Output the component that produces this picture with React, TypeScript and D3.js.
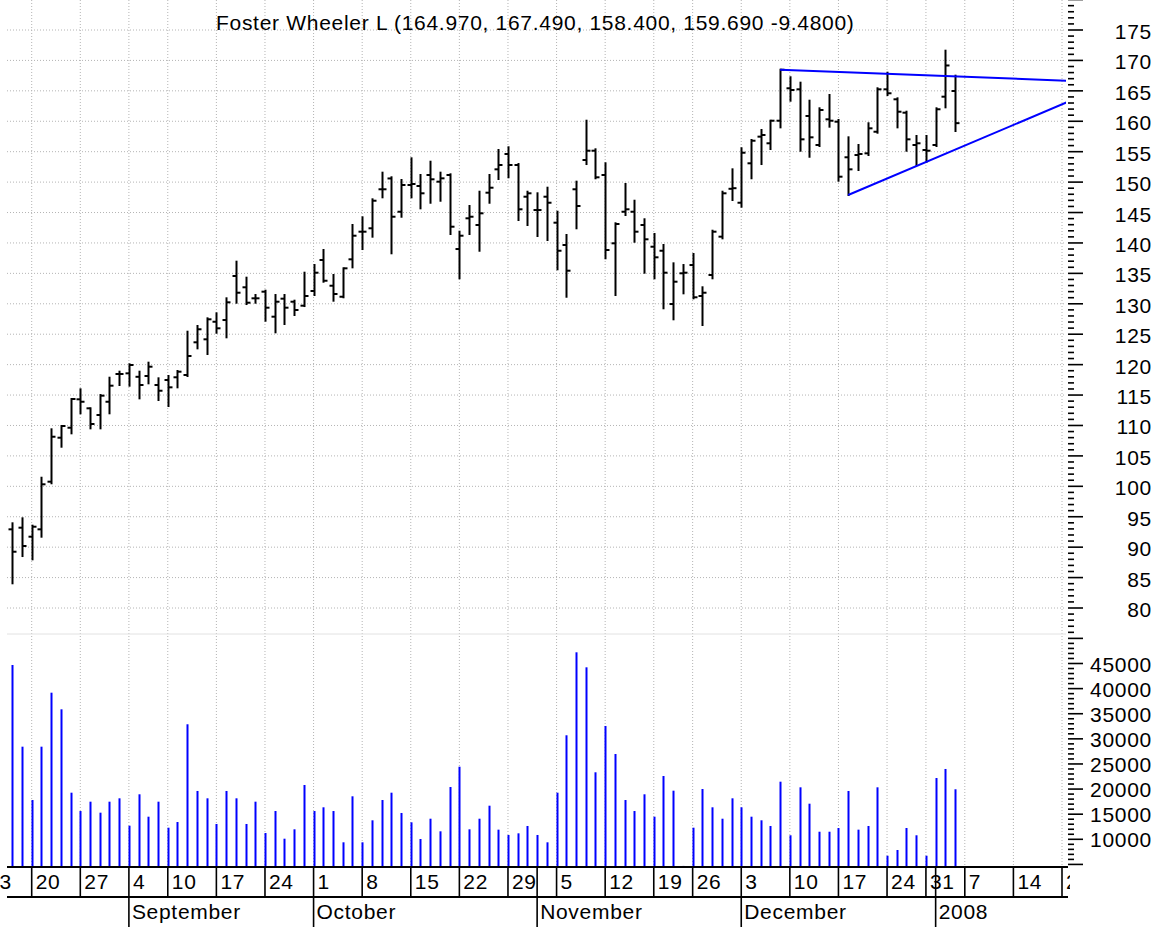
import React from "react";
import * as d3 from "d3";

// ---------- DATA ----------
const tradingDays = [
  "2007-08-13","2007-08-14","2007-08-15","2007-08-16","2007-08-17",
  "2007-08-20","2007-08-21","2007-08-22","2007-08-23","2007-08-24",
  "2007-08-27","2007-08-28","2007-08-29","2007-08-30","2007-08-31",
  "2007-09-04","2007-09-05","2007-09-06","2007-09-07",
  "2007-09-10","2007-09-11","2007-09-12","2007-09-13","2007-09-14",
  "2007-09-17","2007-09-18","2007-09-19","2007-09-20","2007-09-21",
  "2007-09-24","2007-09-25","2007-09-26","2007-09-27","2007-09-28",
  "2007-10-01","2007-10-02","2007-10-03","2007-10-04","2007-10-05",
  "2007-10-08","2007-10-09","2007-10-10","2007-10-11","2007-10-12",
  "2007-10-15","2007-10-16","2007-10-17","2007-10-18","2007-10-19",
  "2007-10-22","2007-10-23","2007-10-24","2007-10-25","2007-10-26",
  "2007-10-29","2007-10-30","2007-10-31","2007-11-01","2007-11-02",
  "2007-11-05","2007-11-06","2007-11-07","2007-11-08","2007-11-09",
  "2007-11-12","2007-11-13","2007-11-14","2007-11-15","2007-11-16",
  "2007-11-19","2007-11-20","2007-11-21","2007-11-23",
  "2007-11-26","2007-11-27","2007-11-28","2007-11-29","2007-11-30",
  "2007-12-03","2007-12-04","2007-12-05","2007-12-06","2007-12-07",
  "2007-12-10","2007-12-11","2007-12-12","2007-12-13","2007-12-14",
  "2007-12-17","2007-12-18","2007-12-19","2007-12-20","2007-12-21",
  "2007-12-24","2007-12-26","2007-12-27","2007-12-28",
  "2007-12-31","2008-01-02","2008-01-03","2008-01-04",
  "2008-01-07","2008-01-08","2008-01-09","2008-01-10","2008-01-11",
  "2008-01-14","2008-01-15","2008-01-16","2008-01-17","2008-01-18",
  "2008-01-21","2008-01-22",
];
const firstBarDay = "2007-08-16";

const opens = [
  92.93,93.20,91.72,92.93,100.76,107.99,109.63,114.30,112.82,111.72,
  113.90,118.46,118.57,118.00,118.13,116.65,117.47,117.92,118.30,123.67,
  124.16,127.05,127.33,134.57,132.71,130.90,131.99,127.88,130.84,130.34,
  129.69,132.10,137.20,132.97,131.16,137.31,141.85,142.41,148.82,150.60,
  145.13,149.52,149.36,151.17,150.07,151.17,139.00,144.05,142.95,148.26,
  152.10,154.62,152.81,147.60,145.41,147.60,143.33,139.66,148.82,153.63,
  155.16,151.17,139.94,145.13,145.13,142.95,139.38,138.72,129.96,135.01,
  136.37,131.28,134.73,141.03,148.90,146.61,153.09,157.47,156.38,160.09,
  165.42,165.25,160.87,156.10,160.32,159.93,154.08,154.45,154.73,158.28,
  165.25,163.61,161.41,156.10,155.28,156.10,164.04,164.97,
];
const highs = [
  93.92,94.74,93.53,101.41,109.37,109.91,114.35,115.94,112.82,115.00,
  117.85,118.84,120.05,118.84,120.32,117.75,118.13,118.95,125.41,126.35,
  127.61,128.43,130.90,136.92,134.29,131.44,132.15,131.44,131.44,130.51,
  135.11,136.37,138.84,134.73,135.83,142.95,144.21,147.17,151.55,150.79,
  150.35,153.91,151.17,153.35,151.55,151.28,141.85,146.07,148.42,151.17,
  155.28,155.72,152.97,148.42,148.16,149.08,145.13,141.31,150.07,160.09,
  155.39,153.09,143.23,149.69,146.94,143.89,141.47,139.66,136.65,136.37,
  138.18,132.71,142.01,148.42,152.10,155.56,156.92,158.56,160.09,168.47,
  167.23,166.34,163.38,162.13,164.32,160.21,157.36,156.10,159.67,165.42,
  167.98,163.77,161.57,157.58,157.58,162.13,171.60,167.49,
];
const lows = [
  84.06,88.54,88.00,91.72,100.50,106.51,108.71,112.00,109.53,109.53,
  112.00,116.65,116.54,114.46,116.93,114.19,113.20,116.27,118.13,122.68,
  121.75,125.25,124.49,130.18,129.96,130.18,127.22,125.31,126.68,128.16,
  129.63,131.44,133.63,130.51,131.07,135.99,139.00,141.03,147.50,138.30,
  144.31,147.50,145.69,146.61,146.94,141.47,134.19,141.47,138.72,146.61,
  150.51,150.79,143.77,142.95,141.14,140.48,135.67,131.16,142.41,152.97,
  150.63,137.48,131.44,144.59,140.20,135.11,134.19,129.26,127.45,131.72,
  130.90,126.51,134.19,140.76,147.06,145.96,150.63,152.97,155.44,159.00,
  163.38,155.16,154.17,155.93,159.11,150.23,147.88,151.99,154.45,158.12,
  164.32,159.00,155.16,152.81,153.35,155.93,162.29,158.40,
];
const closes = [
  89.25,90.19,93.36,100.33,108.15,109.91,114.35,113.90,110.24,114.90,
  116.54,118.46,119.94,116.65,119.66,115.71,116.27,118.84,121.42,125.81,
  127.45,125.97,130.24,131.82,130.18,130.90,129.36,130.34,129.36,128.98,
  131.28,135.11,133.79,131.61,135.83,141.19,141.85,146.94,148.82,144.31,
  149.52,149.69,148.16,150.46,150.62,142.67,141.19,144.31,144.87,149.08,
  152.81,152.81,145.53,148.16,145.41,146.61,138.72,135.44,146.07,155.16,
  150.79,138.84,143.11,145.53,141.85,140.60,137.64,135.11,133.63,135.11,
  131.07,131.82,141.85,148.16,149.00,154.83,156.80,157.74,160.09,168.47,
  165.14,157.03,157.36,161.85,160.09,150.89,152.10,154.62,158.84,165.25,
  164.60,161.57,157.03,156.38,155.16,161.97,169.17,159.69,
];
const volumes = [
  44700,28440,17820,28440,39190,35880,19280,15630,17490,15300,
  17490,18160,12710,18960,14500,17490,12310,13440,32900,19620,
  18160,13050,19620,18160,13050,17490,11250,15630,10120,11990,
  20810,15630,16370,15630,9400,18560,9400,13780,17820,19280,
  15240,13380,10060,14100,11590,20410,24450,11990,14100,16690,
  11920,10860,11190,12650,10860,9400,19280,30710,47230,44240,
  23340,32560,26980,17820,15630,18960,14500,22600,19680,4700,
  12310,20010,16370,14100,18160,16370,14500,13780,12650,21470,
  10800,20350,17090,11510,11510,12250,19620,11920,12650,20350,
  6730,7870,12250,10800,6730,22200,24000,19960,
];

const title = "Foster Wheeler L (164.970, 167.490, 158.400, 159.690 -9.4800)";
const priceTickLabels = [80,85,90,95,100,105,110,115,120,125,130,135,140,145,150,155,160,165,170,175];
const volumeTickLabels = [10000,15000,20000,25000,30000,35000,40000,45000];
const monthNames = ["January","February","March","April","May","June","July","August","September","October","November","December"];

// trend lines: [day, price] pairs
const trendLines = [
  { from: ["2007-12-07", 168.47], to: ["2008-01-22", 166.63] },
  { from: ["2007-12-18", 147.88], to: ["2008-01-22", 163.45] },
];

// ---------- LAYOUT ----------
const W = 1168, H = 927;
const plotLeft = 7, plotRight = 1066;
const sepY = 634;
const axisY = 867, dateRowY = 897, monthRowY = 927;
const tickX = 1068;
const labelX = 1152;
const font = "'Liberation Sans', Arial, Helvetica, sans-serif";
const fs = 21;
const ls = 0.7;

const dayIndex = new Map(tradingDays.map((d, i) => [d, i]));
const offset = dayIndex.get(firstBarDay) as number;
const parse = d3.utcParse("%Y-%m-%d");
const dates = tradingDays.map((d) => parse(d) as Date);

const x = d3.scaleLinear()
  .domain([dayIndex.get("2007-08-20") as number, dayIndex.get("2008-01-21") as number])
  .range([31.7, 1062]);
const yP = d3.scaleLinear().domain([80, 175]).range([608, 30]);
const yV = d3.scaleLinear().domain([10000, 45000]).range([839.3, 663.5]);

// week starts / month starts
const weekStarts: number[] = [];
const monthStarts: number[] = [];
dates.forEach((d, i) => {
  if (i === 0) { weekStarts.push(i); return; }
  const p = dates[i - 1];
  const gap = (d.getTime() - p.getTime()) / 86400000;
  if (d.getUTCDay() <= p.getUTCDay() || gap >= 7) weekStarts.push(i);
  if (d.getUTCMonth() !== p.getUTCMonth()) monthStarts.push(i);
});

const dotted = { stroke: "#b4b4b4", strokeWidth: 1, strokeDasharray: "1 2" };

export default function App() {
  const priceMinor = d3.range(76, 181, 1);
  const volMinor = d3.range(5000, 50001, 1000);
  return (
    <svg width={W} height={H} style={{ position: "absolute", left: 0, top: 0, background: "#fff" }}
      fontFamily={font}>
      <defs>
        <clipPath id="plot"><rect x={plotLeft} y={0} width={plotRight - plotLeft} height={axisY} /></clipPath>
        <clipPath id="dateAxis"><rect x={0} y={axisY} width={1070} height={H - axisY} /></clipPath>
      </defs>
      <rect x={0} y={0} width={W} height={H} fill="#fff" />

      {/* horizontal price grid */}
      {priceTickLabels.map((p) => (
        <line key={"hg" + p} x1={plotLeft} x2={plotRight} y1={yP(p)} y2={yP(p)} {...dotted} />
      ))}
      {/* vertical week grid */}
      {weekStarts.map((i) => (
        <line key={"vg" + i} x1={x(i)} x2={x(i)} y1={0} y2={axisY} {...dotted} />
      ))}
      {/* panel separator */}
      <line x1={plotLeft} x2={plotRight} y1={sepY} y2={sepY} stroke="#e2e2e2" strokeWidth={1} />

      <text x={216} y={30} fontSize={fs} letterSpacing={ls} fill="#000">{title}</text>

      <g clipPath="url(#plot)">
        {/* price bars */}
        {opens.map((o, k) => {
          const cx = Math.round(x(k + offset)) + 0.5;
          return (
            <g key={"b" + k} stroke="#000" strokeWidth={2}>
              <line x1={cx} x2={cx} y1={yP(highs[k]) - 1} y2={yP(lows[k]) + 1} />
              <line x1={cx - 4} x2={cx} y1={yP(o)} y2={yP(o)} />
              <line x1={cx} x2={cx + 4} y1={yP(closes[k])} y2={yP(closes[k])} />
            </g>
          );
        })}
        {/* trend lines */}
        {trendLines.map((t, k) => (
          <line key={"t" + k}
            x1={x(dayIndex.get(t.from[0] as string) as number)} y1={yP(t.from[1] as number)}
            x2={x(dayIndex.get(t.to[0] as string) as number)} y2={yP(t.to[1] as number)}
            stroke="#0000ff" strokeWidth={2} />
        ))}
        {/* volume bars */}
        {volumes.map((v, k) => {
          const cx = Math.round(x(k + offset));
          return <rect key={"v" + k} x={cx - 0.5} y={yV(v)} width={2} height={Math.max(0.8, axisY - yV(v))} fill="#0000ff" />;
        })}
      </g>

      {/* right axis: price */}
      {priceMinor.map((p) => (
        <line key={"pt" + p} x1={tickX} x2={p % 5 === 0 ? tickX + 15 : tickX + 6} y1={yP(p)} y2={yP(p)} stroke="#000" strokeWidth={1.6} />
      ))}
      {priceTickLabels.map((p) => (
        <text key={"pl" + p} x={labelX} y={yP(p) + 9} textAnchor="end" fontSize={fs} letterSpacing={ls}>{p}</text>
      ))}
      {/* right axis: volume */}
      {volMinor.map((v) => (
        <line key={"vt" + v} x1={tickX} x2={v % 5000 === 0 ? tickX + 15 : tickX + 6} y1={yV(v)} y2={yV(v)} stroke="#000" strokeWidth={1.6} />
      ))}
      {volumeTickLabels.map((v) => (
        <text key={"vl" + v} x={labelX} y={yV(v) + 8} textAnchor="end" fontSize={fs} letterSpacing={ls}>{v}</text>
      ))}

      {/* date axis */}
      <line x1={plotLeft} x2={tickX} y1={axisY} y2={axisY} stroke="#000" strokeWidth={2} />
      <line x1={plotLeft} x2={tickX} y1={dateRowY} y2={dateRowY} stroke="#000" strokeWidth={2} />
      <g clipPath="url(#dateAxis)">
        {Array.from(new Set([...weekStarts, ...monthStarts])).map((i) => (
          <line key={"wl" + i} x1={x(i)} x2={x(i)} y1={axisY} y2={dateRowY} stroke="#000" strokeWidth={1.6} />
        ))}
        {weekStarts.map((i) => (
          <text key={"wt" + i} x={x(i) + 4} y={889} fontSize={fs} letterSpacing={ls}>{dates[i].getUTCDate()}</text>
        ))}
        {monthStarts.map((i) => (
          <g key={"m" + i}>
            <line x1={x(i)} x2={x(i)} y1={dateRowY} y2={monthRowY} stroke="#000" strokeWidth={1.6} />
            <text x={x(i) + 3} y={919} fontSize={fs} letterSpacing={ls}>
              {dates[i].getUTCMonth() === 0 ? String(dates[i].getUTCFullYear()) : monthNames[dates[i].getUTCMonth()]}
            </text>
          </g>
        ))}
      </g>
    </svg>
  );
}
